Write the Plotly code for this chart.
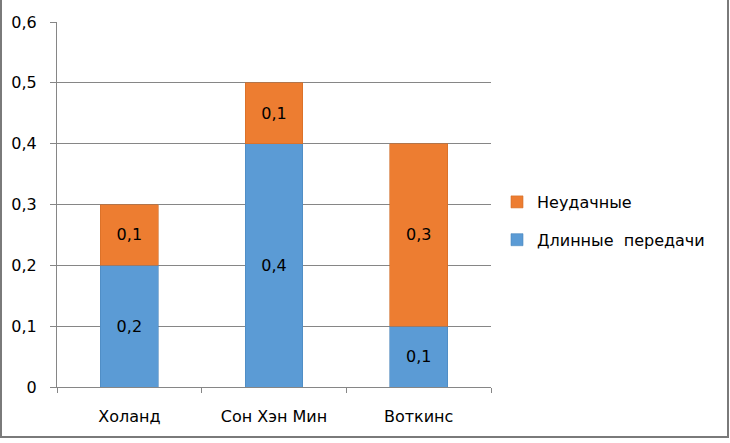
import plotly.graph_objects as go

categories = ["Холанд", "Сон Хэн Мин", "Воткинс"]
long_passes = [0.2, 0.4, 0.1]
failed = [0.1, 0.1, 0.3]
series_names = ["Длинные  передачи", "Неудачные"]
y_ticks = [0, 0.1, 0.2, 0.3, 0.4, 0.5, 0.6]

BLUE = "#5B9BD5"
ORANGE = "#ED7D31"
AX = "#868686"
FONT = "DejaVu Sans"
FS = 16

fig = go.Figure()
fig.add_trace(go.Bar(
    x=categories, y=long_passes, name=series_names[0],
    marker=dict(color=BLUE, line=dict(color="#4A86BD", width=0.6)),
    texttemplate="%{y:.1f}", textposition="inside", insidetextanchor="middle",
    textfont=dict(color="black", size=FS, family=FONT),
    legendgroup="a", legendrank=2, width=0.4,
))
fig.add_trace(go.Bar(
    x=categories, y=failed, name=series_names[1],
    marker=dict(color=ORANGE, line=dict(color="#D16B25", width=0.6)),
    texttemplate="%{y:.1f}", textposition="inside", insidetextanchor="middle",
    textfont=dict(color="black", size=FS, family=FONT),
    legendgroup="b", legendrank=1, width=0.4,
))

# frame around the image (pixel -> paper conversion)
L, R, T, B = 57, 239, 22, 56
pw, ph = 730 - L - R, 443 - T - B
def px(x):
    return (x - L) / pw
def py(y):
    return (443 - B - y) / ph

shapes = [
    dict(type="line", xref="paper", yref="paper", x0=px(1), x1=px(1), y0=py(0), y1=py(437), line=dict(color="#7a7a7a", width=2)),
    dict(type="line", xref="paper", yref="paper", x0=px(728), x1=px(728), y0=py(0), y1=py(437), line=dict(color="#7a7a7a", width=2)),
    dict(type="line", xref="paper", yref="paper", x0=px(0), x1=px(729), y0=py(437), y1=py(437), line=dict(color="#7a7a7a", width=2)),
]

fig.update_layout(
    width=730, height=443,
    margin=dict(l=L, r=R, t=T, b=B),
    barmode="stack",
    separators=", ",
    paper_bgcolor="white", plot_bgcolor="white",
    font=dict(family=FONT, size=FS, color="black"),
    showlegend=True,
    legend=dict(
        x=px(497), y=py(185), xanchor="left", yanchor="top",
        traceorder="grouped", tracegroupgap=14,
        font=dict(size=FS, family=FONT, color="black"),
        itemwidth=30,
    ),
    shapes=shapes,
    uniformtext=dict(mode=False),
)
fig.update_xaxes(
    showline=True, linecolor=AX, linewidth=1,
    ticks="outside", ticklen=5, tickcolor=AX, tickson="boundaries",
    showgrid=False, ticklabelstandoff=15,
)
fig.update_yaxes(
    range=[0, 0.6], tickvals=y_ticks,
    showline=True, linecolor=AX, linewidth=1,
    ticks="outside", ticklen=6, tickcolor=AX,
    showgrid=True, gridcolor=AX, gridwidth=1,
    zeroline=False, ticklabelstandoff=10,
)

fig.write_html("out.html", config={"displayModeBar": False},
               post_script="document.body.style.margin='0';")
